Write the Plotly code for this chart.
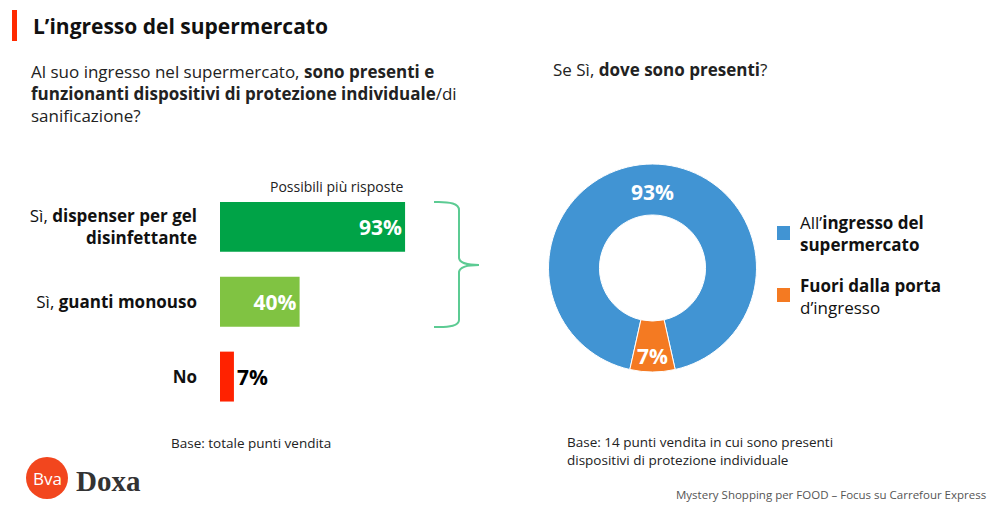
import plotly.graph_objects as go

# ---------------- data ----------------
bar_categories = ["Sì, <b>dispenser per gel</b><br><b>disinfettante</b>",
                  "Sì, <b>guanti monouso</b>",
                  "<b>No</b>"]
bar_values = [93, 40, 7]
bar_colors = ["#00A347", "#80C342", "#FF2200"]
bar_text_colors = ["white", "white", "black"]
bar_text_pos = ["inside", "inside", "outside"]

pie_labels = ["All'ingresso del supermercato", "Fuori dalla porta d'ingresso"]
pie_legend_text = ["All’<b>ingresso del</b><br><b>supermercato</b>",
                   "<b>Fuori dalla porta</b><br>d’ingresso"]
pie_values = [93, 7]
pie_colors = ["#4194D3", "#F47A22"]

FONT = "Open Sans"
W, H = 1000, 509


def py(y):
    return 1 - y / H


def pxx(x):
    return x / W


fig = go.Figure()

fig.add_trace(go.Bar(
    x=bar_values, y=bar_categories, orientation="h",
    marker=dict(color=bar_colors, line=dict(width=0)),
    width=0.667,
    texttemplate="<b>%{x}%</b>",
    textposition=bar_text_pos,
    insidetextanchor="end",
    textfont=dict(family=FONT, size=21, color=bar_text_colors),
    outsidetextfont=dict(family=FONT, size=21, color="black"),
    cliponaxis=False,
    showlegend=False, hoverinfo="skip",
    xaxis="x", yaxis="y",
))

fig.add_trace(go.Pie(
    labels=pie_labels, values=pie_values,
    marker=dict(colors=pie_colors, line=dict(color="white", width=1)),
    hole=0.51, sort=False, direction="clockwise", rotation=192.6,
    texttemplate="<b>%{value}%</b>",
    textposition="inside", insidetextorientation="horizontal",
    textfont=dict(family=FONT, size=21, color="white"),
    domain=dict(x=[pxx(547), pxx(758)], y=[py(372), py(164)]),
    showlegend=False, hoverinfo="skip",
))

fig.update_layout(
    width=W, height=H,
    margin=dict(l=0, r=0, t=0, b=0),
    paper_bgcolor="white", plot_bgcolor="white",
    font=dict(family=FONT, color="#111111"),
    uniformtext=dict(minsize=21, mode="show"),
    xaxis=dict(domain=[pxx(220), pxx(419)], range=[0, 100],
               visible=False, fixedrange=True),
    yaxis=dict(domain=[py(414), py(189.5)], autorange="reversed",
               showgrid=False, zeroline=False, showline=False,
               ticks="", ticklabelstandoff=22, fixedrange=True,
               tickfont=dict(family=FONT, size=17, color="#111111")),
)

shapes = []
# header red bar
shapes.append(dict(type="rect", xref="paper", yref="paper",
                   x0=pxx(12), x1=pxx(17), y0=py(41), y1=py(10),
                   fillcolor="#FF2A00", line=dict(width=0)))
# curly brace
brace = ("M 434 202 Q 459 201 459 210 L 459 258 Q 460 265 479 265 "
         "Q 460 265 459 272 L 459 320 Q 459 328 434 327")


def conv_path(p):
    toks = p.split()
    out = []
    i = 0
    while i < len(toks):
        t = toks[i]
        if t.isalpha():
            out.append(t)
            i += 1
        else:
            x = float(toks[i]); y = float(toks[i + 1])
            out.append(f"{pxx(x):.5f},{py(y):.5f}")
            i += 2
    return " ".join(out)


shapes.append(dict(type="path", xref="paper", yref="paper",
                   path=conv_path(brace),
                   line=dict(color="#5CCB93", width=2)))
# pie legend squares
shapes.append(dict(type="rect", xref="paper", yref="paper",
                   x0=pxx(777), x1=pxx(790), y0=py(240), y1=py(226),
                   fillcolor=pie_colors[0], line=dict(width=0)))
shapes.append(dict(type="rect", xref="paper", yref="paper",
                   x0=pxx(777), x1=pxx(790), y0=py(302), y1=py(288),
                   fillcolor=pie_colors[1], line=dict(width=0)))
# logo circle
shapes.append(dict(type="circle", xref="paper", yref="paper",
                   x0=pxx(26), x1=pxx(68), y0=py(499), y1=py(457),
                   fillcolor="#F2461E", line=dict(width=0)))
fig.update_layout(shapes=shapes)

ann = []


def A(text, x, y, size, xanchor="left", color="#111111", align="left",
      family=FONT, yanchor="middle"):
    ann.append(dict(text=text, x=pxx(x), y=py(y), xref="paper", yref="paper",
                    xanchor=xanchor, yanchor=yanchor, showarrow=False,
                    align=align, font=dict(family=family, size=size, color=color)))


A("<b>L’ingresso del supermercato</b>", 31, 26, 21)
A("Al suo ingresso nel supermercato, <b>sono presenti e</b><br>"
  "<b>funzionanti dispositivi di protezione individuale</b>/di<br>"
  "sanificazione?", 29, 93, 17, color="#222222")
A("Se Sì, <b>dove sono presenti</b>?", 551, 70, 17, color="#222222")
A("Possibili più risposte", 405, 186, 14, xanchor="right", color="#222222")
A(pie_legend_text[0], 798, 234, 17, color="#111111")
A(pie_legend_text[1], 798, 296, 17, color="#111111")
A("Base: totale punti vendita", 169, 443, 13.5, color="#222222")
A("Base: 14 punti vendita in cui sono presenti<br>dispositivi di protezione individuale",
  565, 451, 13.5, color="#222222")
A("Mystery Shopping per FOOD – Focus su Carrefour Express", 988, 494, 11.5,
  xanchor="right", color="#555555")
A("Bva", 47, 478, 17, xanchor="center", color="white")
A("<b>Doxa</b>", 74, 481, 29, color="#333333", family="Liberation Serif")

fig.update_layout(annotations=ann)

fig.write_html("out.html",
               config={"displayModeBar": False, "staticPlot": True},
               post_script="document.body.style.margin='0px';"
                           "document.body.style.overflow='hidden';")
